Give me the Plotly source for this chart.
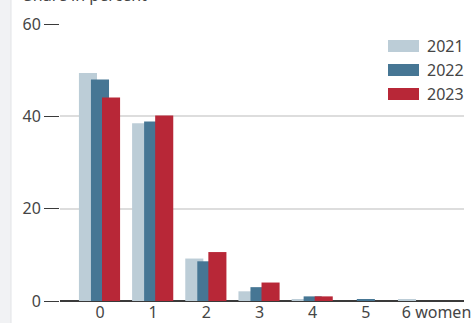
import plotly.graph_objects as go

# Number of women (categories) and share in percent per survey year
categories = [0, 1, 2, 3, 4, 5, 6]
tick_labels = ["0", "1", "2", "3", "4", "5", "6 women"]
years = ["2021", "2022", "2023"]
share_2021 = [49.4, 38.5, 9.2, 2.1, 0.3, 0.0, 0.35]
share_2022 = [48.0, 38.9, 8.6, 3.0, 1.0, 0.35, 0.0]
share_2023 = [44.1, 40.2, 10.6, 4.0, 1.0, 0.0, 0.0]
y_ticks = [0, 20, 40, 60]

colors = ["#bccdd7", "#467694", "#b82737"]
text_color = "#454545"
font_family = "Noto Sans, Open Sans, sans-serif"

W, H = 476, 323
ML, MR, MT, MB = 60, 12, 24, 22
plot_w = W - ML - MR

# overlapping bars: width and left-edge offsets in category units
bar_w = 0.34
offsets = [-0.396, -0.17, 0.038]

fig = go.Figure()
for name, vals, col, off in zip(years, [share_2021, share_2022, share_2023], colors, offsets):
    fig.add_trace(go.Bar(
        x=categories, y=vals, name=name,
        marker=dict(color=col, line=dict(width=0)),
        width=bar_w, offset=off, showlegend=False,
    ))

x_range = [-0.752, 6.846]

# last label carries the unit and hangs to the right of its category
label_pos = list(categories)
label_pos[-1] = categories[-1] + 0.33

shapes = [
    # light side strip on the left edge
    dict(type="rect", xref="paper", yref="paper",
         x0=-ML / plot_w, x1=-(ML - 11) / plot_w, y0=-1, y1=2,
         fillcolor="#f1f2f4", line=dict(width=0), layer="below"),
    dict(type="line", xref="paper", yref="paper",
         x0=-(ML - 11) / plot_w, x1=-(ML - 11) / plot_w, y0=-1, y1=2,
         line=dict(color="#e2e4e7", width=1)),
]

annotations = [
    dict(text="Share in percent", xref="paper", yref="paper",
         x=-(ML - 22) / plot_w, y=1, xanchor="left", yanchor="bottom",
         yshift=16, showarrow=False,
         font=dict(size=16, color=text_color, family=font_family)),
]

# legend drawn as swatches with labels
leg_x0 = (388 - ML) / plot_w
leg_x1 = (419 - ML) / plot_w
plot_h = H - MT - MB
for i, (name, col) in enumerate(zip(years, colors)):
    yc = 46 + 24 * i
    y_top = 1 - (yc - 6 - MT) / plot_h
    y_bot = 1 - (yc + 6 - MT) / plot_h
    shapes.append(dict(type="rect", xref="paper", yref="paper",
                       x0=leg_x0, x1=leg_x1, y0=y_bot, y1=y_top,
                       fillcolor=col, line=dict(width=0)))
    annotations.append(dict(text=name, xref="paper", yref="paper",
                            x=(425 - ML) / plot_w, y=1 - (yc - MT) / plot_h,
                            xanchor="left", yanchor="middle", showarrow=False,
                            font=dict(size=16, color=text_color, family=font_family)))

fig.update_layout(
    width=W, height=H,
    margin=dict(l=ML, r=MR, t=MT, b=MB, autoexpand=False),
    paper_bgcolor="white", plot_bgcolor="white",
    barmode="overlay",
    font=dict(family=font_family, size=16, color=text_color),
    shapes=shapes, annotations=annotations,
    xaxis=dict(
        range=x_range, tickmode="array", tickvals=label_pos, ticktext=tick_labels,
        showgrid=False, zeroline=False, showline=False, ticks="",
        tickfont=dict(size=16, color=text_color), automargin=False,
    ),
    yaxis=dict(
        range=[0, 60], tickmode="array", tickvals=y_ticks,
        showgrid=True, gridcolor="#dddddd", gridwidth=1.5,
        zeroline=True, zerolinecolor="#3a3a3a", zerolinewidth=1.5,
        showline=False, ticks="outside", ticklen=15, tickwidth=1.2,
        tickcolor="#3a3a3a", tickfont=dict(size=16, color=text_color),
        automargin=False,
    ),
)

fig.write_html("out.html")
